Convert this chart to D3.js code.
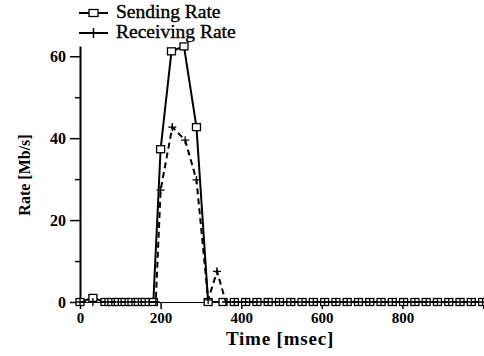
<!DOCTYPE html>
<html>
<head>
<meta charset="utf-8">
<script src="https://cdn.jsdelivr.net/npm/d3@7"></script>
<style>
body{margin:0;background:#fff;}
text{font-family:"Liberation Serif","Times New Roman",serif;fill:#000;}
</style>
</head>
<body>
<svg id="chart" width="484" height="356"></svg>
<script>
// sending rate (squares, solid)
const sendTime = [0,32,62,79,95,112,129,145,162,182,200,227,258,289,318,355,383,411,439,467,495,523,551,579,607,635,663,691,719,747,775,803,831,859,887,915,943,971,999];
const sendRate = [0,1,0,0,0,0,0,0,0,0,37.3,61.2,62.4,42.7,0,0,0,0,0,0,0,0,0,0,0,0,0,0,0,0,0,0,0,0,0,0,0,0,0];

// receiving rate (plus, dashed)
const recvTime = [0,32,62,79,95,112,129,145,162,188,200,229,261,289,318,340,362,383,411,439,467,495,523,551,579,607,635,663,691,719,747,775,803,831,859,887,915,943,971,999];
const recvRate = [0,0,0,0,0,0,0,0,0,0,27.3,42.7,39.5,29.8,0.5,7.5,0,0,0,0,0,0,0,0,0,0,0,0,0,0,0,0,0,0,0,0,0,0,0,0];

const xTicks = [0,200,400,600,800];
const yTicks = [0,20,40,60];
const yMinor = [10,30,50];

const sendData = sendTime.map((t,i)=>({t:t, v:sendRate[i]}));
const recvData = recvTime.map((t,i)=>({t:t, v:recvRate[i]}));

const svg = d3.select("#chart");

const x = d3.scaleLinear().domain([0,1000]).range([80,483]);
const y = d3.scaleLinear().domain([0,62.5]).range([302,46]);

// axes
const xAxis = svg.append("g")
.attr("transform",`translate(0,${y(0)})`)
.call(d3.axisBottom(x).tickValues(xTicks).tickSize(7).tickPadding(3));
xAxis.select(".domain").attr("stroke-width",1);
xAxis.selectAll(".tick line").attr("stroke-width",1.5);
xAxis.selectAll("text").style("font-size","15px").style("font-weight","bold")
.style("font-family","Liberation Serif, serif");

const yAxis = svg.append("g")
.attr("transform",`translate(${x(0)},0)`)
.call(d3.axisLeft(y).tickValues(yTicks).tickSize(10).tickPadding(4).tickSizeOuter(0));
yAxis.select(".domain").attr("stroke-width",2);
yAxis.selectAll(".tick line").attr("stroke-width",1.5);
yAxis.selectAll("text").style("font-size","16px").style("font-weight","bold")
.style("font-family","Liberation Serif, serif");

svg.append("g")
.attr("transform",`translate(${x(0)},0)`)
.call(d3.axisLeft(y).tickValues(yMinor).tickSize(5).tickFormat(""))
.call(g=>g.select(".domain").remove())
.selectAll(".tick line").attr("stroke-width",1.5);

// labels
svg.append("text")
.attr("x",280).attr("y",345)
.attr("text-anchor","middle")
.style("font-size","19px").style("font-weight","bold").style("letter-spacing","0.8px")
.text("Time [msec]");

svg.append("text")
.attr("transform","translate(30,175) rotate(-90)")
.attr("text-anchor","middle")
.style("font-size","16px").style("font-weight","bold")
.text("Rate [Mb/s]");

// lines
const line = d3.line().x(d=>x(d.t)).y(d=>y(d.v));

svg.append("path").datum(sendData)
.attr("d",line).attr("fill","none").attr("stroke","#000").attr("stroke-width",2);

svg.selectAll(".sq").data(sendData).enter().append("rect")
.attr("class","sq")
.attr("x",d=>x(d.t)-4).attr("y",d=>y(d.v)-3.5)
.attr("width",8).attr("height",7)
.attr("fill","#fff").attr("stroke","#000").attr("stroke-width",1.3);

svg.append("path").datum(recvData)
.attr("d",line).attr("fill","none").attr("stroke","#000").attr("stroke-width",2)
.attr("stroke-dasharray","6,4");

svg.selectAll(".pl").data(recvData).enter().append("path")
.attr("class","pl")
.attr("d","M-4,0H4M0,-4V4")
.attr("transform",d=>`translate(${x(d.t)},${y(d.v)})`)
.attr("stroke","#000").attr("stroke-width",1.3).attr("fill","none");

// legend
const items = [
 {name:"Sending Rate", mark:"square"},
 {name:"Receiving Rate", mark:"plus"}
];
const legend = svg.append("g").attr("transform","translate(79,13)");
items.forEach((item,i)=>{
    const row = legend.append("g").attr("transform",`translate(0,${i*20})`);
    row.append("line").attr("x1",0).attr("x2",29).attr("y1",0).attr("y2",0)
    .attr("stroke","#000").attr("stroke-width",2);
    if(item.mark==="square"){
        row.append("rect").attr("x",10).attr("y",-3.5).attr("width",9).attr("height",7)
        .attr("fill","#fff").attr("stroke","#000").attr("stroke-width",1.3);
    }else{
        row.append("path").attr("d","M14.5,-5V5").attr("stroke","#000").attr("stroke-width",1.5);
    }
    row.append("text").attr("x",37).attr("y",5)
    .style("font-size","19.5px")
    .attr("stroke","#000").attr("stroke-width",0.4)
    .text(item.name);
});
</script>
</body>
</html>
